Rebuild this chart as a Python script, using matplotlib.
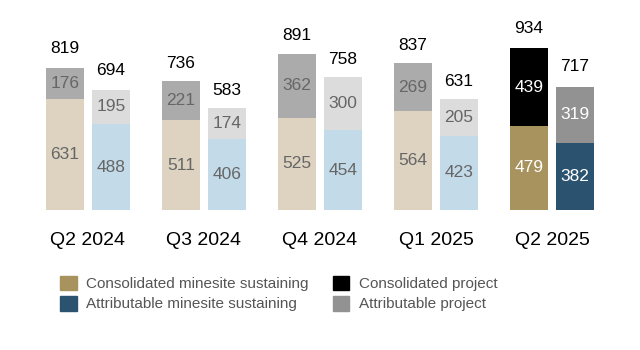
import numpy as np
import matplotlib.pyplot as plt
from matplotlib.patches import Patch

plt.rcParams['font.family'] = ['Liberation Sans', 'DejaVu Sans']

quarters = ['Q2 2024', 'Q3 2024', 'Q4 2024', 'Q1 2025', 'Q2 2025']
cons_sustaining = [631, 511, 525, 564, 479]
cons_project = [176, 221, 362, 269, 439]
cons_total = [819, 736, 891, 837, 934]
attr_sustaining = [488, 406, 454, 423, 382]
attr_project = [195, 174, 300, 205, 319]
attr_total = [694, 583, 758, 631, 717]

# past quarters use faded colours, the latest quarter full colours
past = {'cs': '#ddd3c0', 'cp': '#ababab', 'as': '#c3dae8', 'ap': '#dcdcdc', 'txt': '#666666'}
curr = {'cs': '#a8925e', 'cp': '#000000', 'as': '#2b5370', 'ap': '#929292', 'txt': 'white'}

fig = plt.figure(figsize=(6.4, 3.5), dpi=100)
ax = fig.add_axes([0, 0.4, 1, 0.6])

x = np.arange(len(quarters))
w = 0.328
off = 0.198

for i in range(len(quarters)):
    c = curr if i == len(quarters) - 1 else past
    xc = x[i] - off
    xa = x[i] + off
    ax.bar(xc, cons_sustaining[i], w, color=c['cs'])
    ax.bar(xc, cons_project[i], w, bottom=cons_sustaining[i], color=c['cp'])
    ax.bar(xa, attr_sustaining[i], w, color=c['as'])
    ax.bar(xa, attr_project[i], w, bottom=attr_sustaining[i], color=c['ap'])
    ax.text(xc, cons_sustaining[i] / 2, str(cons_sustaining[i]), ha='center', va='center', fontsize=12.5, color=c['txt'])
    ax.text(xc, cons_sustaining[i] + cons_project[i] / 2, str(cons_project[i]), ha='center', va='center', fontsize=12.5, color=c['txt'])
    ax.text(xa, attr_sustaining[i] / 2, str(attr_sustaining[i]), ha='center', va='center', fontsize=12.5, color=c['txt'])
    ax.text(xa, attr_sustaining[i] + attr_project[i] / 2, str(attr_project[i]), ha='center', va='center', fontsize=12.5, color=c['txt'])
    ax.annotate(str(cons_total[i]), (xc, cons_total[i]), xytext=(0, 7), textcoords='offset points',
                ha='center', va='bottom', fontsize=12.5, color='black')
    ax.annotate(str(attr_total[i]), (xa, attr_total[i]), xytext=(0, 7), textcoords='offset points',
                ha='center', va='bottom', fontsize=12.5, color='black')

ax.set_xlim((0 - 88) / 116, (640 - 88) / 116)
ax.set_ylim(0, 210 / 0.176)
ax.set_xticks(x)
ax.set_xticklabels(quarters, fontsize=14)
ax.tick_params(axis='x', length=0, pad=16)
ax.set_yticks([])
for s in ax.spines.values():
    s.set_visible(False)

handles = [Patch(color=curr['cs'], label='Consolidated minesite sustaining'),
           Patch(color=curr['as'], label='Attributable minesite sustaining'),
           Patch(color=curr['cp'], label='Consolidated project'),
           Patch(color=curr['ap'], label='Attributable project')]
fig.legend(handles=handles, ncol=2, loc='upper left', bbox_to_anchor=(46 / 640, 1 - 262 / 350),
           frameon=False, fontsize=11, handlelength=1.1, handleheight=1.1,
           handletextpad=0.6, labelspacing=0.3, columnspacing=1.6, labelcolor='#555555')

fig.savefig('out.png', dpi=100)
